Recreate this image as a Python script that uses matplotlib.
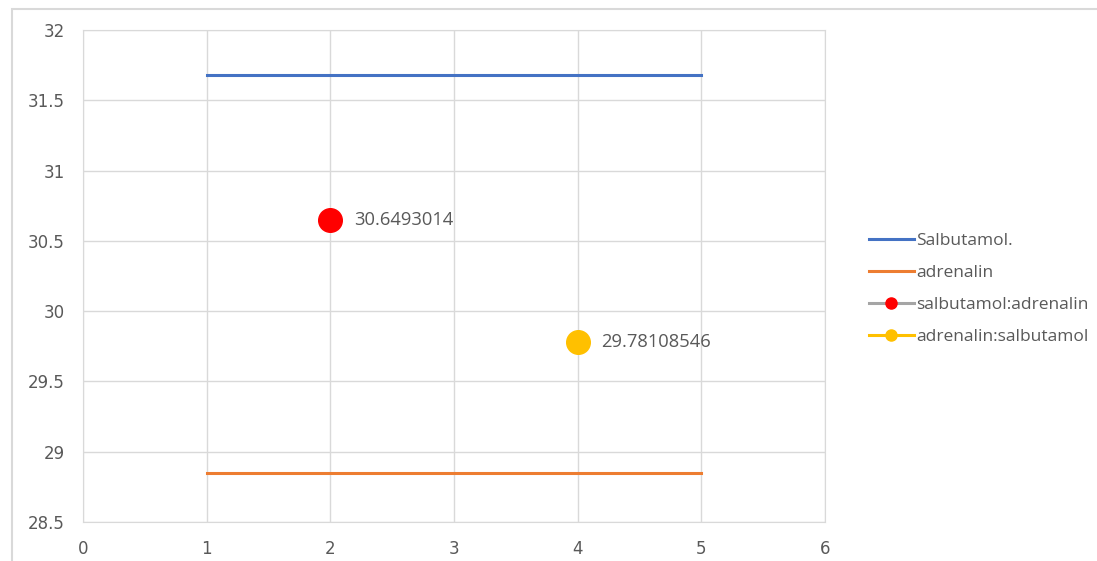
import matplotlib.pyplot as plt
from matplotlib.patches import Rectangle
from matplotlib.lines import Line2D

# data
line_x = [1, 5]
salbutamol = [31.68, 31.68]
adrenalin = [28.85, 28.85]
sal_adr_x = [2]
sal_adr_y = [30.6493014]
adr_sal_x = [4]
adr_sal_y = [29.78108546]
x_ticks = [0, 1, 2, 3, 4, 5, 6]
y_ticks = [28.5, 29, 29.5, 30, 30.5, 31, 31.5, 32]

grey = '#595959'
fig = plt.figure(figsize=(10.97, 5.61), dpi=100)
ax = fig.add_axes([83/1097, 1 - 522/561, (825 - 83)/1097, (522 - 30)/561])

ax.plot(line_x, salbutamol, color='#4472C4', lw=2.2, label='Salbutamol.')
ax.plot(line_x, adrenalin, color='#ED7D31', lw=2.2, label='adrenalin')
ax.plot(sal_adr_x, sal_adr_y, 'o', color='red', ms=17, label='salbutamol:adrenalin')
ax.plot(adr_sal_x, adr_sal_y, 'o', color='#FFC000', ms=17, label='adrenalin:salbutamol')

for x, y in zip(sal_adr_x + adr_sal_x, sal_adr_y + adr_sal_y):
    ax.annotate(f'{y:.10g}', (x, y), xytext=(17, 0), textcoords='offset points',
                va='center', ha='left', color=grey, fontsize=13.2, family='Open Sans')

ax.set_xlim(0, 6)
ax.set_ylim(28.5, 32)
ax.set_xticks(x_ticks)
ax.set_yticks(y_ticks)
ax.set_xticklabels([str(t) for t in x_ticks])
ax.set_yticklabels([f'{t:g}' for t in y_ticks])
ax.grid(True, color='#d9d9d9', lw=1)
ax.set_axisbelow(True)
for s in ax.spines.values():
    s.set_color('#d9d9d9')
ax.tick_params(axis='y', length=0, colors=grey, labelsize=12, pad=13)
ax.tick_params(axis='x', length=0, colors=grey, labelsize=12, pad=13)

handles = [
    Line2D([], [], color='#4472C4', lw=2.2),
    Line2D([], [], color='#ED7D31', lw=2.2),
    Line2D([], [], color='#A5A5A5', lw=2.2, marker='o', mfc='red', mec='red', ms=8),
    Line2D([], [], color='#FFC000', lw=2.2, marker='o', mfc='#FFC000', mec='#FFC000', ms=8),
]
labels = ['Salbutamol.', 'adrenalin', 'salbutamol:adrenalin', 'adrenalin:salbutamol']
leg = fig.legend(handles, labels, loc='center left', bbox_to_anchor=(853/1097, 1 - 289/561),
                 frameon=False, handlelength=2.6, handletextpad=0.15, labelspacing=0.9,
                 prop={'family': 'Open Sans', 'size': 12.5})
for t in leg.get_texts():
    t.set_color(grey)

# outer chart border
fig.patches.append(Rectangle((12/1097, -0.1), 1.2, 1 - 9/561 + 0.1, transform=fig.transFigure,
                             fill=False, edgecolor='#d9d9d9', lw=1.5))

fig.savefig('out.png', dpi=100)
